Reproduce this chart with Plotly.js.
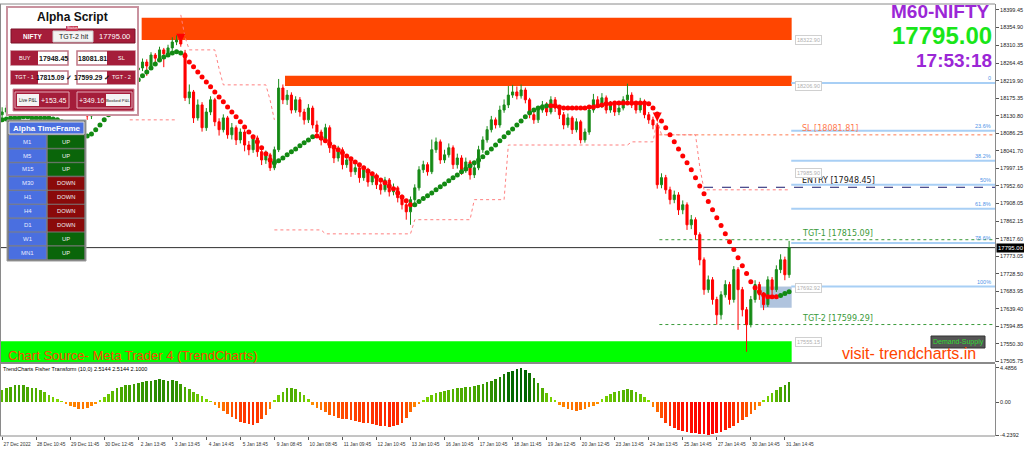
<!DOCTYPE html>
<html><head><meta charset="utf-8">
<script src="https://cdn.plot.ly/plotly-3.0.1.min.js"></script>
<style>html,body{margin:0;padding:0;background:#fff;}#chart{width:1024px;height:450px;}</style>
</head><body><div id="chart"></div>
<script>
// ---------------- DATA ----------------
const opens = [18133,18140,18150,18145,18161,18156,18171,18163,18176,18168,18181,18173,18186,18178,18191,18183,18171,18181,18161,18150,
18140,18130,18145,18161,18171,18183,18191,18201,18209,18222,18232,18237,18247,18252,18267,18257,18285,18277,18298,18288,
18303,18318,18323,18290,18176,18191,18125,18158,18100,18140,18171,18115,18095,18125,18082,18100,18069,18089,18056,18044,
18074,18039,18018,18031,17998,18044,18201,18171,18183,18145,18171,18140,18120,18150,18107,18089,18069,18100,18049,18023,
18044,18006,18018,17988,17998,17973,17993,17962,17978,17955,17942,17967,17937,17947,17922,17904,17886,17917,17947,17993,
18006,17988,18044,18064,18018,18031,18049,18006,18023,17993,18013,17980,17998,18044,18069,18095,18120,18107,18145,18158,
18183,18191,18181,18196,18171,18133,18120,18145,18158,18140,18171,18150,18133,18107,18125,18095,18115,18069,18089,18145,
18171,18158,18176,18145,18158,18140,18150,18171,18183,18158,18145,18166,18133,18120,18107,17955,17973,17942,17917,17929,
17891,17904,17853,17866,17828,17764,17688,17713,17663,17624,17675,17701,17663,17739,17688,17637,17599,17663,17701,17675,
17650,17713,17688,17739,17764,17726];
const highs = [18152,18158,18160,18168,18170,18178,18180,18184,18182,18190,18187,18194,18192,18199,18197,18188,18189,18185,18166,18156,
18146,18152,18168,18180,18191,18200,18210,18218,18230,18240,18248,18256,18262,18276,18274,18292,18290,18306,18303,18311,
18330,18335,18330,18298,18210,18196,18172,18165,18150,18180,18176,18124,18134,18130,18112,18106,18098,18095,18066,18082,
18080,18046,18042,18036,18052,18224,18210,18196,18190,18180,18178,18148,18160,18156,18118,18095,18110,18106,18055,18054,
18050,18030,18024,18010,18004,18003,17998,17988,17984,17962,17975,17972,17958,17952,17930,17912,17925,17956,18002,18016,
18012,18070,18075,18070,18044,18060,18055,18034,18030,18024,18018,18010,18054,18078,18104,18130,18126,18156,18172,18206,
18209,18205,18210,18202,18176,18140,18154,18168,18165,18180,18178,18158,18140,18136,18130,18124,18120,18098,18152,18186,
18180,18188,18182,18168,18165,18160,18180,18212,18190,18166,18176,18172,18140,18128,18112,17984,17980,17950,17940,17936,
17915,17910,17878,17872,17834,17770,17724,17720,17670,17684,17712,17708,17748,17745,17695,17644,17672,17712,17708,17682,
17722,17720,17750,17778,17772,17812];
const lows = [18126,18134,18138,18140,18149,18150,18158,18158,18161,18163,18166,18168,18170,18173,18176,18163,18165,18154,18142,18132,
18120,18122,18139,18154,18165,18176,18184,18194,18202,18214,18224,18229,18238,18244,18232,18250,18262,18270,18254,18280,
18296,18310,18306,18168,18160,18112,18118,18090,18092,18132,18104,18080,18088,18072,18070,18056,18060,18040,18030,18036,
18026,18005,18008,17990,17992,18038,18160,18158,18136,18138,18128,18108,18112,18098,18078,18055,18062,18036,18010,18014,
17994,17998,17975,17980,17960,17965,17950,17954,17944,17930,17936,17925,17928,17910,17892,17866,17853,17908,17940,17985,
17978,17982,18036,18008,18010,18024,17995,17996,17980,17985,17968,17972,17992,18036,18062,18088,18098,18100,18138,18150,
18176,18172,18174,18162,18124,18110,18112,18138,18130,18134,18140,18122,18096,18100,18084,18088,18060,18062,18082,18138,
18150,18150,18136,18138,18130,18132,18144,18164,18150,18136,18138,18124,18110,18096,17945,17946,17932,17905,17908,17878,
17880,17840,17842,17815,17750,17675,17680,17650,17599,17612,17668,17650,17655,17586,17620,17530,17592,17655,17662,17636,
17644,17676,17682,17730,17712,17718];
const closes = [18140,18150,18145,18161,18156,18171,18163,18176,18168,18181,18173,18186,18178,18191,18183,18171,18181,18161,18150,18140,
18130,18145,18161,18171,18183,18191,18201,18209,18222,18232,18237,18247,18252,18267,18257,18285,18277,18298,18288,18303,
18318,18323,18313,18176,18191,18125,18158,18100,18140,18171,18115,18095,18125,18082,18100,18069,18089,18056,18044,18074,
18039,18018,18031,17998,18044,18201,18171,18183,18145,18171,18140,18120,18150,18107,18089,18069,18100,18049,18023,18044,
18006,18018,17988,17998,17973,17993,17962,17978,17955,17942,17967,17937,17947,17922,17904,17886,17917,17947,17993,18006,
17988,18044,18064,18018,18031,18049,18006,18023,17993,18013,17980,17998,18044,18069,18095,18120,18107,18145,18158,18183,
18191,18181,18196,18171,18133,18120,18145,18158,18140,18171,18150,18133,18107,18125,18095,18115,18069,18089,18145,18171,
18158,18176,18145,18158,18140,18150,18171,18183,18158,18145,18166,18133,18120,18107,17955,17973,17942,17917,17929,17891,
17904,17853,17866,17828,17764,17688,17713,17663,17624,17675,17701,17663,17739,17688,17637,17599,17663,17701,17675,17650,
17713,17688,17739,17764,17726,17795];

// trend-coloured moving line (dots)
const maDots = [18120,18122,18125,18125,18125,18128,18128,18125,18125,18125,18125,18125,18122,18120,18115,18110,18102,18095,18087,18082,
18079,18084,18095,18107,18120,18133,18145,18161,18173,18186,18199,18211,18222,
18232,18242,18252,18262,18272,18280,18285,18290,18293,18290,
18283,18267,18255,18242,18229,18216,18204,18191,18178,18166,18153,18140,18128,18115,18102,18089,18077,18064,18049,18034,18018,
18011,18016,18023,18031,18039,18046,18054,18062,18069,18077,
18079,18074,18067,18059,18051,18044,18036,18028,18021,18013,18006,17998,17990,17983,17975,17967,17960,17952,17945,17934,17924,17914,17904,
17904,17912,17920,17927,17934,17942,17950,17957,17965,17973,17980,17988,17995,18003,18011,18018,18026,18036,18046,18056,18067,18077,18087,18097,18107,18117,18128,18138,18145,18150,18153,18156,
18156,18156,18153,18150,18150,18150,18150,18150,18150,18153,18153,18156,18158,18161,18161,18163,18163,18163,18163,18163,18163,18163,18163,
18161,18150,18135,18117,18100,18082,18064,18046,18028,18011,17993,17973,17952,17932,17912,17891,17871,17851,17830,17810,17790,17769,17749,17729,17708,17693,17683,17675,17670,17670,17670,
17673,17678,17683];
const maTrend = "uuuuuuuuuuuuuuuuuuuuuuuuuuuuuuuuuuuuuuuuuuu" + "ddddddddddddddddddddd" + "uuuuuuuuuu" + "ddddddddddddddddddddddd" +
  "uuuuuuuuuuuuuuuuuuuuuuuuuuuuuuuu" + "dddddddddddddddddddddddddddddddddddddddddddddddddddddd" + "uuu";

// dotted envelope lines (null = not drawn)
const upperBand = [null,null,null,null,null,null,null,null,null,null,null,null,null,null,null,null,null,null,null,null,
null,null,null,null,null,null,null,null,null,null,null,null,null,null,null,null,null,null,null,null,
null,null,18387,18330,18298,18298,18298,18298,18298,18298,18298,18250,18209,18209,18209,18209,18209,18209,18209,18209,
18209,18209,18209,18170,18120,null,null,null,null,null,null,null,null,null,null,null,null,null,null,null,
null,null,null,null,null,null,null,null,null,null,null,null,null,null,null,null,null,null,null,null,
null,null,null,null,null,null,null,null,null,null,null,null,null,null,null,null,null,null,null,null,
null,null,null,null,null,null,null,null,null,null,null,null,null,null,null,null,null,null,null,null,
null,null,null,null,null,null,null,null,null,null,null,null,null,null,18120,18082,18082,18082,18082,18082,
18082,18082,18082,18082,18000,17942,17942,17942,17942,17942,17942,17942,17942,17942,17942,17942,17942,17942,17942,17942,
17942,17942,17942,17942,17942,17942];
const lowerBand = [null,null,null,null,null,null,null,null,null,null,null,null,null,null,null,null,null,null,null,null,
null,null,null,null,null,null,null,null,null,null,18120,18120,18120,18120,18120,18120,18120,18120,18120,18120,
18120,18120,null,null,null,null,null,null,null,null,null,null,null,null,null,null,null,null,null,null,
null,null,null,null,17840,17840,17840,17840,17840,17840,17840,17840,17840,17840,17840,17840,17830,17830,17830,17830,
17830,17830,17830,17830,17830,17830,17830,17830,17830,17830,17830,17830,17830,17830,17830,17830,17830,17866,17866,17866,
17866,17866,17866,17866,17866,17866,17866,17866,17866,17866,17866,17917,17917,17917,17917,17917,17917,17917,17917,18056,
18056,18056,18056,18056,18056,18056,18056,18056,18056,18056,18056,18056,18056,18056,18056,18056,18056,18056,18056,18056,
18056,18056,18056,18056,18056,18056,18056,18056,18064,18064,18064,18064,18064,18064,18120,null,null,null,null,null,
null,null,null,null,null,null,null,null,null,null,null,null,null,null,null,null,null,null,null,null,
null,null,null,null,null,null];

const fisher = [1.6,1.8,2.0,2.2,2.3,2.2,2.0,1.9,1.8,1.6,1.3,1.0,0.7,0.4,0.2,
-0.2,-0.4,-0.6,-0.8,-0.9,-0.7,-0.5,-0.2,
0.3,0.7,1.1,1.5,1.8,2.0,2.2,2.3,2.4,
2.5,2.6,2.7,2.8,2.9,3.0,2.9,2.8,2.9,2.7,
2.4,2.0,1.7,1.4,1.1,0.8,0.5,0.2,
-0.3,-0.7,-1.1,-1.5,-1.9,-2.2,-2.5,-2.7,-2.8,-2.9,-2.6,-2.2,-1.6,-0.9,
0.3,0.9,1.4,1.8,1.9,1.7,1.4,1.0,0.5,
-0.3,-0.7,-1.0,-1.3,-1.6,-1.8,-2.0,-2.1,-2.2,-2.3,-2.4,-2.5,-2.6,-2.7,-2.8,-2.9,-3.0,-3.1,-3.2,-3.1,-2.9,-2.6,-2.0,-1.3,
-0.6,-0.2,
0.3,0.7,1.0,1.2,1.4,1.5,1.6,1.7,1.8,1.9,2.0,2.0,2.1,2.2,2.4,2.6,2.8,3.0,3.3,3.6,3.9,4.1,4.3,4.4,4.2,3.8,
3.2,2.5,1.8,1.2,0.7,0.3,
-0.3,-0.6,-0.8,-1.0,-1.1,-1.0,-0.8,-0.6,-0.4,-0.2,
0.4,0.8,1.1,1.3,1.5,1.6,1.7,1.6,1.4,1.1,0.7,0.3,
-0.6,-1.3,-2.0,-2.6,-3.0,-3.3,-3.5,-3.7,-3.8,-3.9,-4.0,-4.1,-4.1,-4.2,-4.1,-4.0,-3.8,-3.6,-3.3,-3.0,-2.7,-2.3,-1.9,-1.5,-1.0,-0.5,
0.3,0.8,1.2,1.6,2.0,2.3,2.6];

const xTickBars = [0,8,16,24,32,40,48,56,64,72,80,88,96,104,112,120,128,136,144,152,160,168,176,184];
const xTickLabels = ["27 Dec 2022","28 Dec 10:45","29 Dec 11:45","30 Dec 12:45","2 Jan 13:45","3 Jan 13:45","4 Jan 14:45","5 Jan 18:45",
 "9 Jan 08:45","10 Jan 08:45","11 Jan 09:45","12 Jan 10:45","13 Jan 10:45","16 Jan 10:45","17 Jan 10:45","18 Jan 11:45",
 "19 Jan 12:45","20 Jan 12:45","23 Jan 13:45","24 Jan 13:45","25 Jan 14:45","27 Jan 14:45","30 Jan 14:45","31 Jan 14:45"];
const yTickLabels = ["18399.45","18354.90","18310.35","18264.45","18219.90","18175.35","18130.80","18086.25","18041.70","17997.15",
 "17952.60","17908.05","17862.15","17817.60","17773.05","17728.50","17683.95","17639.40","17594.85","17550.30","17505.75"];
const fisherTickLabels = ["4.4856","0.00","-4.2392"];

const lastPrice = 17795.00;
const zoneSupply1 = [18323, 18380];
const zoneSupply2 = [18206, 18232];
const zoneDemand = [17504, 17557];
const zoneSmall = [17642, 17696];
const zoneLabels = ["18322.90","18206.90","17985.90","17692.92","17555.15"];
const zoneLabelPrices = [18323, 18207, 17986, 17693, 17555];
const fibNames = ["0","23.6%","38.2%","50%","61.8%","78.6%","100%"];
const fibPrices = [18214, 18092, 18016, 17955, 17894, 17807, 17696];
const tradeNames = ["SL","ENTRY","TGT-1","TGT-2"];
const tradePrices = [18081.81, 17948.45, 17815.09, 17599.29];
const tfNames = ["M1","M5","M15","M30","H1","H4","D1","W1","MN1"];
const tfStates = ["UP","UP","UP","DOWN","DOWN","DOWN","DOWN","UP","UP"];
const arrowBars = [42, 154];
const arrowPrices = [18316, 18116];

// ---------------- GEOMETRY ----------------
const W=1024, H=450, ML=0, MR=29, MT=4, MB=14;
const PW=W-ML-MR, PH=H-MT-MB;
const px = x => (x-ML)/PW;
const py = y => (H-MB-y)/PH;
const bars = closes.map((_,i)=>i);
const XMAX = 233.4;

const shapes=[], annotations=[];
function rect(x0,y0,x1,y1,fill,line,lw,layer){
  shapes.push({type:'rect',xref:'paper',yref:'paper',x0:px(x0),x1:px(x1),y0:py(y1),y1:py(y0),
    fillcolor:fill,line:{color:line||fill,width:lw===undefined?1:lw},layer:layer||'above'});
}
function txt(x,y,s,size,color,opt){
  opt=opt||{};
  annotations.push({xref:'paper',yref:'paper',x:px(x),y:py(y),text:s,showarrow:false,
    xanchor:opt.xa||'center',yanchor:'middle',font:{size:size,color:color,family:opt.fam||'Liberation Sans, Arial, sans-serif',weight:opt.bold?'bold':'normal'},
    bgcolor:opt.bg,bordercolor:opt.bc,borderwidth:opt.bw||0,borderpad:opt.bp||0});
}

// price zones
function zone(x0,x1,p,color){
  shapes.push({type:'rect',xref:'x',yref:'y',x0:x0,x1:x1,y0:p[0],y1:p[1],fillcolor:color,line:{width:0},layer:'below'});
}
zone(32.8,185.6,zoneSupply1,'#ff4500');
zone(66.5,185.6,zoneSupply2,'#ff4500');
zone(-0.5,185.6,zoneDemand,'#00ff00');
zone(178.2,185.6,zoneSmall,'#b0c4de');

// current price line
shapes.push({type:'line',xref:'x',yref:'y',x0:-0.5,x1:XMAX,y0:lastPrice,y1:lastPrice,line:{color:'#303030',width:1},layer:'below'});

// fib lines
fibPrices.forEach((p,i)=>{
  shapes.push({type:'line',xref:'x',yref:'y',x0:185.5,x1:XMAX,y0:p,y1:p,line:{color:'#a8cff5',width:2},layer:'below'});
  annotations.push({xref:'paper',yref:'y',x:px(993),y:p,text:fibNames[i],showarrow:false,xanchor:'right',yanchor:'bottom',
    font:{size:5.5,color:'#4f94e8',family:'Liberation Sans, Arial'}});
});

// trade lines
const tradeColors = ['#ff7a50','#1a1a6e','#3a9a3a','#3a9a3a'];
const tradeStart = [154.5,165,154.5,154.5];
const tradeDash = ['dot','dash','dot','dot'];
tradePrices.forEach((p,i)=>{
  shapes.push({type:'line',xref:'x',yref:'y',x0:tradeStart[i],x1:XMAX,y0:p,y1:p,line:{color:tradeColors[i],width:1,dash:tradeDash[i]},layer:'below'});
  annotations.push({xref:'paper',yref:'y',x:px(800),y:p,text:tradeNames[i]+' ['+p.toFixed(2)+']',showarrow:false,xanchor:'left',yanchor:'bottom',yshift:0,
    font:{size:8,color:i===1?'#222':tradeColors[i],family:'DejaVu Sans, sans-serif'}});
});

// zone price labels (faint grey)
zoneLabels.forEach((s,i)=>{
  annotations.push({xref:'paper',yref:'y',x:px(795),y:zoneLabelPrices[i],text:s,showarrow:false,xanchor:'left',yanchor:'middle',
    font:{size:5.5,color:'#b0b0b0',family:'Liberation Sans, Arial'},bordercolor:'#d0d0d0',borderwidth:1,borderpad:1,bgcolor:'#ffffff'});
});

// right-axis current price tag
annotations.push({xref:'paper',yref:'y',x:px(996),y:lastPrice,text:'17795.00',showarrow:false,xanchor:'left',yanchor:'middle',
  font:{size:6,color:'#ffffff',family:'Liberation Sans, Arial'},bgcolor:'#000000',borderpad:1});

// big texts
txt(990,12,'M60-NIFTY',19,'#9b27d6',{xa:'right',bold:true});
txt(992,35,'17795.00',24,'#19e619',{xa:'right',bold:true});
txt(992,61,'17:53:18',19,'#9b27d6',{xa:'right',bold:true});
txt(8,355,'Chart Source- Meta Trader 4 (TrendCharts)',13,'#ff4500',{xa:'left'});
txt(976,353,'visit- trendcharts.in',16,'#ff4500',{xa:'right'});
rect(931,336,985,348,'#555555','#333333',1);
txt(958,342,'Demand-Supply',7,'#33dd33');
txt(3,369,'TrendCharts Fisher Transform (10,0) 2.5144 2.5144 2.1000',5.5,'#000000',{xa:'left'});

// frame
shapes.push({type:'line',xref:'paper',yref:'paper',x0:0,x1:px(995),y0:py(363),y1:py(363),line:{color:'#8a8a8a',width:2},layer:'above'});
shapes.push({type:'line',xref:'paper',yref:'paper',x0:px(0.5),x1:px(0.5),y0:0,y1:1,line:{color:'#8a8a8a',width:1},layer:'above'});
shapes.push({type:'line',xref:'paper',yref:'paper',x0:0,x1:px(995),y0:1,y1:1,line:{color:'#8a8a8a',width:1},layer:'above'});
shapes.push({type:'line',xref:'paper',yref:'paper',x0:0,x1:px(995),y0:0,y1:0,line:{color:'#8a8a8a',width:1},layer:'above'});

// ---- Alpha Script panel ----
const DR='#a51d3a';
rect(7,7,138,115,'#ffffff','#c9929f',2);
txt(72.5,17,'Alpha Script',12,'#111',{bold:true});
rect(11,29,135,43,DR,'#7a1228',1);
rect(53,31,93,42,'#f3f3f3','#d0d0d0',1);
txt(32,36,'NIFTY',6.5,'#fff',{bold:true});
txt(73,37,'TGT-2 hit',7,'#222');
rect(66,26,78,31,'#c83a55','#c83a55',0);
txt(72,28.5,'Status',3.8,'#fff');
txt(114,36,'17795.00',7.5,'#fff');
// row 2
rect(11,51,68,65,'#ffffff','#c07585',1.5);
rect(11,51,38,65,DR,DR,0);
txt(24.5,58,'BUY',5.5,'#fff');
txt(53,58,'17948.45',7,'#111',{bold:true});
rect(77,51,135,65,'#ffffff','#c07585',1.5);
rect(107,51,135,65,DR,DR,0);
txt(92,58,'18081.81',7,'#111',{bold:true});
txt(121,58,'SL',5.5,'#fff');
// row 3
rect(11,71,68,84,'#ffffff','#c07585',1.5);
rect(11,71,38,84,DR,DR,0);
txt(24.5,77.5,'TGT - 1',5.5,'#fff');
txt(54,77.5,'17815.09 ✓',6.8,'#111',{bold:true});
rect(77,71,135,84,'#ffffff','#c07585',1.5);
rect(107,71,135,84,DR,DR,0);
txt(92,77.5,'17599.29 ✓',6.8,'#111',{bold:true});
txt(121,77.5,'TGT - 2',5.5,'#fff');
// row 4
rect(13,89,134,111,DR,'#d08898',1);
rect(15,92,69,108,'rgba(0,0,0,0)','#e3a7b5',1);
rect(77,92,132,108,'rgba(0,0,0,0)','#e3a7b5',1);
rect(17,94,39,106,'#f4f4f4','#f4f4f4',0);
txt(28,100,'Live P&amp;L',4.5,'#222');
txt(54,100,'+153.45',7,'#fff');
txt(92,100,'+349.16',7,'#fff');
rect(106,94,130,106,'#f4f4f4','#f4f4f4',0);
txt(118,100,'Booked P&amp;L',4.3,'#222');

// ---- TimeFrame panel ----
rect(7,120,86,261,'#7a7a7a','#9a9a9a',1);
rect(9,122,84,134,'#4a6fe0','#dddddd',1);
txt(46.5,128,'Alpha TimeFrame',8,'#fff',{bold:true});
tfNames.forEach((n,i)=>{
  const y0=135.5+i*13.9, y1=y0+12.3;
  rect(9,y0,46,y1,'#4a6fe0','#5a7ae0',0.5);
  const up = tfStates[i]==='UP';
  rect(48,y0,84,y1,up?'#0a650a':'#8a0a0a',up?'#0a650a':'#8a0a0a',0.5);
  txt(27.5,(y0+y1)/2,n,6,'#e8ecff');
  txt(66,(y0+y1)/2,tfStates[i],5.8,'#f0f0f0');
});

// ---------------- TRACES ----------------
const traces = [];
traces.push({type:'scatter',mode:'lines',x:bars,y:upperBand,line:{color:'#ff7f7f',width:1,dash:'dot'},connectgaps:false,hoverinfo:'skip',xaxis:'x',yaxis:'y'});
traces.push({type:'scatter',mode:'lines',x:bars,y:lowerBand,line:{color:'#ff7f7f',width:1,dash:'dot'},connectgaps:false,hoverinfo:'skip',xaxis:'x',yaxis:'y'});
traces.push({type:'candlestick',x:bars,open:opens,high:highs,low:lows,close:closes,xaxis:'x',yaxis:'y',whiskerwidth:0,
  increasing:{line:{color:'#1c8c1c',width:1},fillcolor:'#138a13'},
  decreasing:{line:{color:'#ff0000',width:1},fillcolor:'#ff0000'},hoverinfo:'skip'});
traces.push({type:'scatter',mode:'markers',x:bars,y:maDots,xaxis:'x',yaxis:'y',hoverinfo:'skip',
  marker:{size:5,color:maTrend.split('').map(c=>c==='u'?'#138a13':'#ff0000')}});
traces.push({type:'scatter',mode:'markers',x:arrowBars,y:arrowPrices,xaxis:'x',yaxis:'y',hoverinfo:'skip',
  marker:{symbol:'arrow-down',size:9,color:'#ff0000',line:{width:0}}});
function fisherColor(v){
  const a=Math.min(1,Math.abs(v)/4.2);
  if(v>=0){ const g=Math.round(230-130*a), r=Math.round(140-140*a); return `rgb(${r},${g},0)`; }
  const g2=Math.round(150-150*a); return `rgb(255,${g2},0)`;
}
traces.push({type:'bar',x:bars,y:fisher,xaxis:'x2',yaxis:'y2',width:0.62,marker:{color:fisher.map(fisherColor),line:{width:0}},hoverinfo:'skip'});

const layout = {
  width:W,height:H,margin:{l:ML,r:MR,t:MT,b:MB},paper_bgcolor:'#ffffff',plot_bgcolor:'#ffffff',showlegend:false,
  font:{family:'Liberation Sans, Arial, sans-serif',size:6,color:'#000'},
  xaxis:{domain:[0,1],range:[-0.5,XMAX],anchor:'y',showticklabels:false,showgrid:false,zeroline:false,showline:false,ticks:'',rangeslider:{visible:false},fixedrange:true},
  xaxis2:{domain:[0,1],range:[-0.5,XMAX],anchor:'y2',matches:'x',showgrid:false,zeroline:false,showline:false,
    tickvals:xTickBars,ticktext:xTickLabels,ticks:'outside',ticklen:3,tickcolor:'#555',tickfont:{size:4.8,color:'#333'},ticklabelshift:15,tickangle:0},
  yaxis:{domain:[py(362),1],range:[17504,18414.7],side:'right',anchor:'x',showgrid:false,zeroline:false,showline:true,linecolor:'#8a8a8a',
    tickvals:yTickLabels.map(Number),ticktext:yTickLabels,ticks:'outside',ticklen:3,tickcolor:'#555',tickfont:{size:5.5,color:'#222'},fixedrange:true},
  yaxis2:{domain:[0,py(364)],range:[-4.33,4.95],side:'right',anchor:'x2',showgrid:false,zeroline:false,showline:true,linecolor:'#8a8a8a',
    tickvals:fisherTickLabels.map(Number),ticktext:fisherTickLabels,ticks:'outside',ticklen:3,tickcolor:'#555',tickfont:{size:5.5,color:'#222'},fixedrange:true},
  shapes:shapes,annotations:annotations,bargap:0
};
Plotly.newPlot('chart',traces,layout,{staticPlot:true,displayModeBar:false});
</script></body></html>
